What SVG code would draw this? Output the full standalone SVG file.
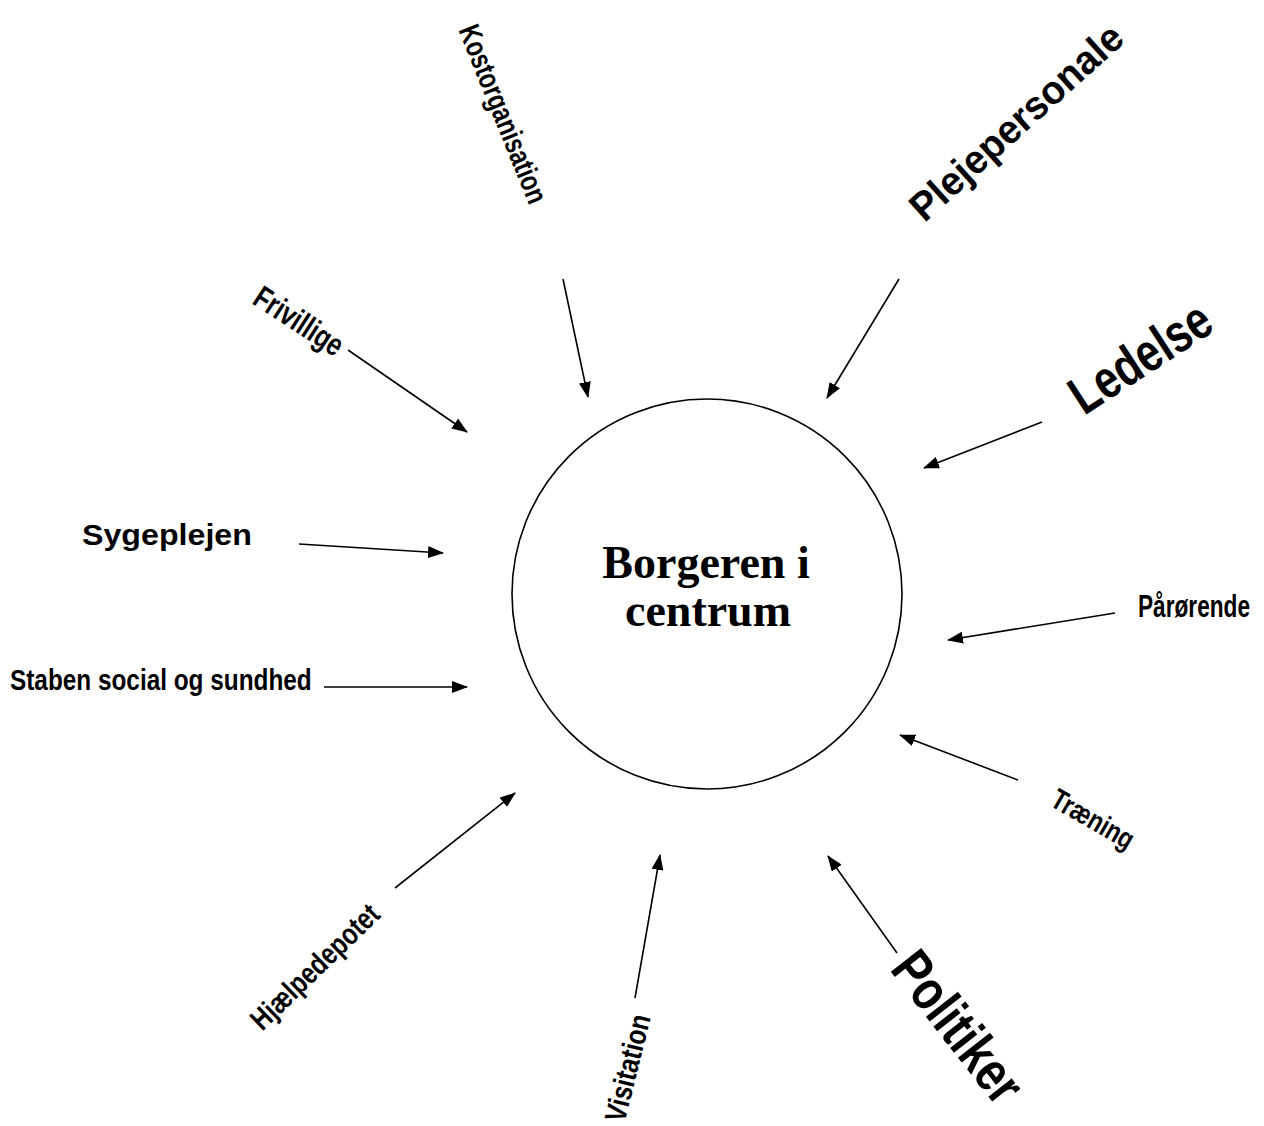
<svg xmlns="http://www.w3.org/2000/svg" width="1264" height="1126" viewBox="0 0 1264 1126">
<defs>
<marker id="ah" viewBox="0 0 16 12" refX="15" refY="6" markerWidth="16" markerHeight="12" markerUnits="userSpaceOnUse" orient="auto">
<path d="M0,0 L16,6 L0,12 z" fill="#000"/>
</marker>
<style>
.lbl{font-family:"Liberation Sans",Arial,sans-serif;font-weight:bold;fill:#000}
.mid{text-anchor:middle}
.ctr{font-family:"Liberation Serif","Times New Roman",serif;font-weight:bold;font-size:46px;fill:#000;text-anchor:middle}
.c line{stroke:#000;stroke-width:1.6;marker-end:url(#ah)}
</style>
</defs>
<rect width="1264" height="1126" fill="#fff"/>
<g id="center">
<circle cx="707" cy="594" r="195" fill="none" stroke="#000" stroke-width="1.6"/>
<text class="ctr" x="706" y="578">Borgeren i</text>
<text class="ctr" x="708" y="626">centrum</text>
</g>
<g class="c" id="connectors">
<line x1="563" y1="279" x2="588" y2="397"/>
<line x1="899" y1="279" x2="827" y2="398"/>
<line x1="1042" y1="422" x2="924" y2="468"/>
<line x1="348" y1="350" x2="467" y2="432"/>
<line x1="299" y1="544" x2="443" y2="553"/>
<line x1="324" y1="687" x2="467" y2="687"/>
<line x1="1115" y1="613" x2="948" y2="640"/>
<line x1="1018" y1="780" x2="900" y2="735"/>
<line x1="897" y1="953" x2="828" y2="856"/>
<line x1="635" y1="998" x2="660" y2="855"/>
<line x1="395" y1="888" x2="515" y2="793"/>
</g>
<g id="kostorganisation"><text class="lbl mid" font-size="30" dy="10" transform="translate(503,114) rotate(68) scale(0.77,1)">Kostorganisation</text></g>
<g id="plejepersonale"><text class="lbl mid" font-size="40" dy="14" transform="translate(1016,122) rotate(-42) scale(0.963,1)">Plejepersonale</text></g>
<g id="ledelse"><text class="lbl mid" font-size="54" dy="19" transform="translate(1140,357) rotate(-33) scale(0.786,1)">Ledelse</text></g>
<g id="frivillige"><text class="lbl mid" font-size="32" dy="11" transform="translate(299,321) rotate(33) scale(0.76,1)">Frivillige</text></g>
<g id="sygeplejen"><text class="lbl" font-size="30" transform="translate(82,545) scale(1.073,1)">Sygeplejen</text></g>
<g id="staben"><text class="lbl" font-size="30" transform="translate(10,690) scale(0.812,1)">Staben social og sundhed</text></g>
<g id="paarorende"><text class="lbl" font-size="31" transform="translate(1138,617) scale(0.731,1)">Pårørende</text></g>
<g id="traening"><text class="lbl mid" font-size="29" dy="10" transform="translate(1093,819) rotate(30) scale(0.793,1)">Træning</text></g>
<g id="politiker"><text class="lbl mid" font-size="56" dy="19" transform="translate(958,1027) rotate(52) scale(0.796,1)">Politiker</text></g>
<g id="visitation"><text class="lbl mid" font-size="30" dy="10" transform="translate(628,1068) rotate(-76) scale(0.815,1)">Visitation</text></g>
<g id="hjaelpedepotet"><text class="lbl mid" font-size="30" dy="10" transform="translate(315,967) rotate(-44) scale(0.797,1)">Hjælpedepotet</text></g>
</svg>
